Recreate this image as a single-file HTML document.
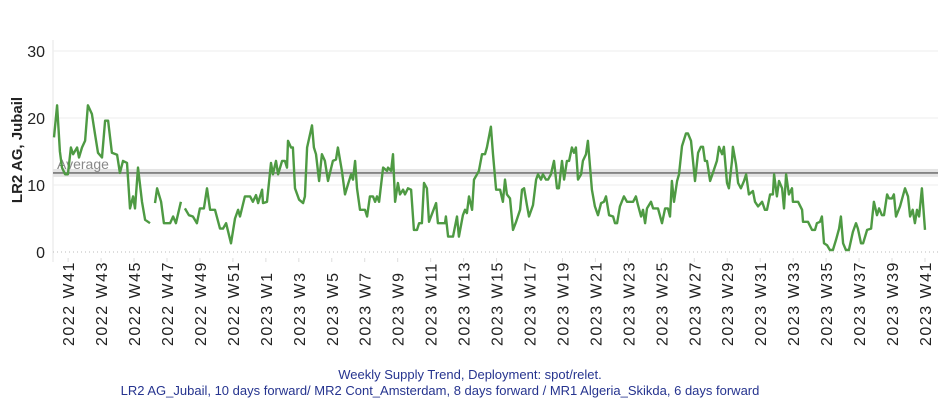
<!DOCTYPE html>
<html><head><meta charset="utf-8"><style>
body{margin:0;background:#fff;width:940px;height:409px;overflow:hidden;font-family:"Liberation Sans",sans-serif}
</style></head><body>
<svg id="chart" width="940" height="409" xmlns="http://www.w3.org/2000/svg" font-family="Liberation Sans, sans-serif">
<g id="grid"></g>
<g id="yaxis"></g>
<g id="xaxis"></g>
<g id="avg"></g>
<g id="series"></g>
<text x="0" y="0" transform="translate(22,150) rotate(-90)" text-anchor="middle" font-size="15" font-weight="bold" fill="#222">LR2 AG, Jubail</text>
<text x="470" y="379" text-anchor="middle" font-size="13" fill="#26348f">Weekly Supply Trend, Deployment: spot/relet.</text>
<text x="440" y="395" text-anchor="middle" font-size="13" fill="#26348f">LR2 AG_Jubail, 10 days forward/ MR2 Cont_Amsterdam, 8 days forward / MR1 Algeria_Skikda, 6 days forward</text>
</svg>
<script>
const days=[0,1.3,2.5,3.4,4.7,5.9,7.2,8.1,9.8,10.6,11.9,13.2,14.4,16.1,17.4,18.7,20.4,21.7,23.0,24.6,26.8,28.0,29.3,31.0,32.3,33.6,34.4,35.7,37.4,38.7,40.8,41.9,42.9,43.8,45.5,46.7,49.3,50.6,51.8,53.9,54.8,55.6,57.3,59.0,60.7,62.0,63.7,65.0,66.3,68.4,70.5,71.8,73.1,75.2,76.9,78.2,79.0,81.1,83.3,84.5,85.8,86.7,88.4,88.8,90.5,92.2,93.0,94.3,95.2,96.9,98.1,99.0,99.4,100.7,101.5,102.4,104.1,105.8,106.6,107.5,109.6,110.4,111.3,112.6,113.8,115.1,116.4,118.5,119.8,120.6,122.3,123.6,124.9,126.2,127.0,127.9,128.7,130.0,132.1,133.0,134.2,135.5,136.4,137.2,138.1,139.8,141.5,141.9,143.2,144.0,144.9,146.1,147.0,148.3,149.1,150.4,151.7,152.9,154.2,155.1,156.3,157.2,158.4,159.3,162.3,163.1,166.1,166.5,167.4,169.5,171.2,172.0,173.7,174.6,175.4,176.3,177.6,178.4,179.7,180.5,181.8,183.1,183.9,185.6,186.5,187.8,189.5,190.7,191.6,192.4,193.7,195.0,196.3,198.0,198.8,199.7,200.9,201.8,203.5,204.8,205.6,206.9,207.7,209.0,209.9,211.1,212.4,213.7,214.5,215.8,216.7,217.9,218.8,220.0,220.9,221.7,222.6,223.9,224.7,226.0,226.8,228.5,229.8,231.1,232.4,233.6,234.5,235.8,237.5,238.3,239.2,240.4,242.1,243.4,244.7,246.0,247.2,248.1,249.4,250.2,251.1,251.9,253.6,254.5,256.6,258.3,259.6,260.8,261.7,262.5,263.4,264.7,265.5,266.8,268.5,269.3,270.6,272.3,273.6,274.8,275.7,276.5,277.4,278.7,279.9,281.6,282.5,283.8,284.6,285.9,286.7,288.0,288.4,289.7,290.6,291.8,293.1,294.0,295.2,296.9,297.8,299.1,300.8,302.0,302.9,304.2,305.4,305.9,307.1,308.0,309.3,310.1,311.0,312.2,313.5,313.9,316.1,317.8,318.2,320.3,322.0,323.3,324.1,325.4,326.2,327.1,328.4,329.6,330.9,332.2,333.5,334.3,335.2,336.4,337.7,339.4,340.7,341.5,342.8,343.7,345.4,347.1,348.3,349.6,350.5,351.7,352.6,353.9,354.7,356.0,356.8,357.7,359.4,361.5,362.8,363.7,364.8,365.7,366.6,367.5,368.7,370.0];
const values=[17.1,21.9,15,12.6,11.6,11.6,15.6,14.6,15.6,14.1,15.6,16.6,21.9,20.6,17.6,14.8,14.1,19.6,19.6,14.8,14.5,11.8,13.6,13.3,6.5,8.3,6.5,12.6,7.5,4.8,4.3,null,7.3,9.5,7.5,4.3,4.3,5.3,4.3,7.5,null,6.5,5.5,5.3,4.3,6.5,6.5,9.5,6.3,6.3,3.5,3.5,4.3,1.3,5,6.3,5.3,8.3,8.3,7.5,8.5,7.3,9.3,7.3,7.5,13.3,11.6,13.6,11.6,13.6,13.6,12.6,16.6,15.6,15.6,9.5,7.8,7.3,8.3,15.6,18.9,15.6,14.6,10.6,14.6,13.6,10.6,13.6,13.8,15.6,12.1,8.6,10.1,11.6,10.8,13.6,9.5,6.3,6.3,5.3,8.3,8.3,7.5,8.3,7.5,12.6,12.1,12.6,12.1,14.6,7.5,10.3,8.6,9.3,8.6,9.5,9.3,3.3,3.3,4.3,4.3,10.3,9.5,4.5,7.3,4.3,4.3,5.3,2.3,2.3,5.3,2.3,5.5,6.3,5.8,8.3,6.3,10.8,11.6,12.1,14.6,14.6,15.6,18.7,14.6,9.3,9.3,7.5,10.8,8.6,8.0,3.3,4.5,6.3,9.3,9.5,7.0,5.3,7.0,10.8,11.6,10.8,11.6,10.8,10.8,11.6,13.6,9.5,9.5,13.6,10.8,13.6,13.6,15.6,14.8,15.6,10.8,11.6,13.6,14.6,16.6,9.3,6.8,5.5,7.3,7.5,8.3,5.5,5.3,4.3,4.3,6.8,8.3,7.5,7.5,7.5,8.3,7.0,5.3,6.3,4.3,6.5,7.5,6.5,6.5,4.3,6.5,6.5,5.3,10.6,7.5,10.6,11.6,15.8,17.7,17.7,16.6,10.6,14.8,15.7,15.7,13.6,13.6,10.6,11.8,13.6,15.7,14.6,15.7,10.3,9.5,13.6,15.7,13.1,10.3,9.5,10.6,11.6,8.6,9.1,7.5,6.8,7.5,6.3,6.3,8.6,8.6,11.6,8.3,10.6,9.5,6.5,11.6,8.6,9.5,7.5,7.5,6.3,4.5,4.5,3.3,3.3,4.3,4.5,5.3,1.3,1.0,0.3,0.3,1.8,3.5,5.3,1.3,0.3,0.3,3.0,4.3,3.5,1.3,1.3,3.3,3.5,7.5,5.5,6.5,5.5,5.5,8.6,8.0,8.0,8.6,5.3,6.8,9.5,8.3,5.3,6.3,4.3,6.3,5.3,9.5,3.3];
const yTicks=[0,10,20,30];
const weekLabels=["2022 W41","2022 W43","2022 W45","2022 W47","2022 W49","2022 W51","2023 W1","2023 W3","2023 W5","2023 W7","2023 W9","2023 W11","2023 W13","2023 W15","2023 W17","2023 W19","2023 W21","2023 W23","2023 W25","2023 W27","2023 W29","2023 W31","2023 W33","2023 W35","2023 W37","2023 W39","2023 W41"];
const averageValue=[11.8];
const NS="http://www.w3.org/2000/svg";
const X=d=>54+d*2.354, Y=v=>252-v*6.7;
function mk(tag,attrs,parent){const e=document.createElementNS(NS,tag);for(const k in attrs)e.setAttribute(k,attrs[k]);parent.appendChild(e);return e;}
const grid=document.getElementById('grid'),ya=document.getElementById('yaxis'),xa=document.getElementById('xaxis');
mk('line',{x1:53,x2:53,y1:40,y2:262,stroke:'#e6e6e6'},grid);
yTicks.forEach(t=>{
  const l=mk('line',{x1:53,x2:938,y1:Y(t),y2:Y(t),stroke:t===0?'#bbb':'#eee','stroke-dasharray':t===0?'1,3':''},grid);
  
  
  const tx=mk('text',{x:45,y:Y(t)+6,'text-anchor':'end','font-size':16,fill:'#222'},ya);
  tx.textContent=t;
  
  
});
weekLabels.forEach((w,i)=>{
  const x=X(6+i*14);
  mk('line',{x1:x,x2:x,y1:258,y2:262,stroke:'#ddd'},xa);
  const tx=mk('text',{x:0,y:0,transform:`translate(${x+6},346) rotate(-90)`,'font-size':16,'letter-spacing':'1.5',fill:'#222'},xa);
  tx.textContent=w;
  
  
});
const avg=document.getElementById('avg');
const ay=Y(averageValue[0]);
mk('rect',{x:53,y:ay-4,width:885,height:8,fill:'#e4e4e4'},avg);
mk('line',{x1:53,x2:938,y1:ay,y2:ay,stroke:'#777','stroke-width':1.6},avg);
const at=mk('text',{x:57,y:ay-4,'font-size':14,fill:'#888'},avg);
at.textContent='Average';


const ser=document.getElementById('series');
let d='',pen=false;
days.forEach((dd,i)=>{const v=values[i];if(v===null){pen=false;return;}d+=(pen?'L':'M')+X(dd).toFixed(1)+','+Y(v).toFixed(1);pen=true;});
const p=mk('path',{d:d,fill:'none',stroke:'#4e9a43','stroke-width':2.4,'stroke-linejoin':'round'},ser);


</script>
</body></html>
